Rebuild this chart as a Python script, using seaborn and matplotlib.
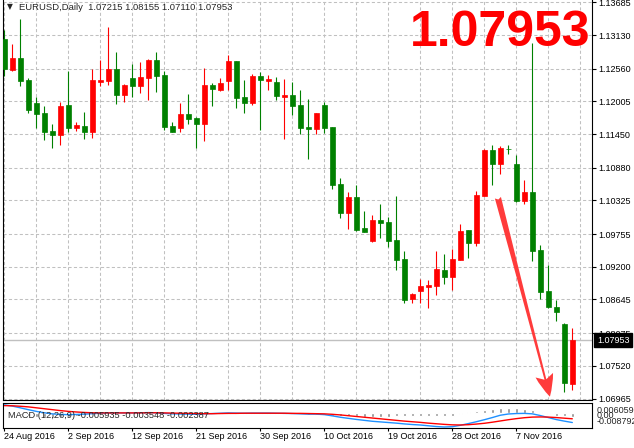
import numpy as np
import pandas as pd
import seaborn as sns
import matplotlib.pyplot as plt

# EURUSD daily bars (24 Aug 2016 .. 15 Nov 2016)
opens = [1.13062, 1.12536, 1.12740, 1.12367, 1.11977, 1.11807, 1.11502, 1.11440, 1.11943, 1.11553,
         1.11587, 1.11490, 1.12333, 1.12355, 1.12553, 1.12117, 1.12401, 1.12270, 1.12406, 1.12706,
         1.12452, 1.11587, 1.11558, 1.11790, 1.11722, 1.11626, 1.12282, 1.12197, 1.12355, 1.12689,
         1.12079, 1.11972, 1.12435, 1.12355, 1.12333, 1.12084, 1.12112, 1.11943, 1.11570, 1.11536,
         1.11943, 1.11570, 1.10603, 1.10116, 1.10383, 1.09857, 1.09641, 1.09992, 1.09959, 1.09653,
         1.09330, 1.08647, 1.08793, 1.08861, 1.08878, 1.09144, 1.09030, 1.09314, 1.09823, 1.09608,
         1.10405, 1.11180, 1.10947, 1.11202, 1.10942, 1.10315, 1.10462, 1.09484, 1.08788, 1.08522,
         1.08229, 1.07215]
highs = [1.13215, 1.12977, 1.13401, 1.12401, 1.12073, 1.11921, 1.11621, 1.11989, 1.12520, 1.11655,
         1.11824, 1.12553, 1.12711, 1.13266, 1.12842, 1.12299, 1.12638, 1.12672, 1.12723, 1.12842,
         1.12520, 1.11655, 1.11982, 1.12134, 1.11739, 1.12570, 1.12316, 1.12401, 1.12791, 1.12689,
         1.12367, 1.12469, 1.12503, 1.12452, 1.12418, 1.12384, 1.12333, 1.12197, 1.12045, 1.11807,
         1.11994, 1.11570, 1.10705, 1.10467, 1.10580, 1.10145, 1.10077, 1.10264, 1.10043, 1.10399,
         1.09467, 1.08749, 1.08992, 1.08975, 1.09467, 1.09416, 1.09495, 1.09925, 1.09823, 1.10484,
         1.11202, 1.11264, 1.11248, 1.11270, 1.11095, 1.10671, 1.12999, 1.09569, 1.09224, 1.08636,
         1.08251, 1.08155]
lows = [1.12440, 1.12520, 1.12265, 1.11812, 1.11553, 1.11354, 1.11219, 1.11270, 1.11485, 1.11507,
        1.11371, 1.11388, 1.12270, 1.12287, 1.11965, 1.11986, 1.12078, 1.12151, 1.12028, 1.12168,
        1.11524, 1.11485, 1.11490, 1.11626, 1.11219, 1.11337, 1.11931, 1.12185, 1.12197, 1.11897,
        1.11812, 1.11948, 1.11519, 1.12197, 1.12028, 1.11371, 1.11778, 1.11451, 1.11032, 1.11451,
        1.11468, 1.10523, 1.10031, 1.09845, 1.09811, 1.09794, 1.09624, 1.09692, 1.09540, 1.09150,
        1.08590, 1.08590, 1.08590, 1.08505, 1.08725, 1.08910, 1.08810, 1.09314, 1.09348, 1.09551,
        1.10405, 1.10591, 1.10778, 1.11117, 1.10303, 1.10269, 1.09302, 1.08647, 1.08495, 1.08285,
        1.07080, 1.07110]
closes = [1.12548, 1.12740, 1.12355, 1.11863, 1.11795, 1.11490, 1.11440, 1.11926, 1.11558, 1.11604,
          1.11490, 1.12367, 1.12367, 1.12553, 1.12117, 1.12277, 1.12270, 1.12418, 1.12706, 1.12440,
          1.11575, 1.11490, 1.11790, 1.11710, 1.11626, 1.12282, 1.12219, 1.12316, 1.12689, 1.12067,
          1.11982, 1.12435, 1.12367, 1.12384, 1.12100, 1.12112, 1.11931, 1.11558, 1.11541, 1.11807,
          1.11558, 1.10591, 1.10116, 1.10383, 1.09823, 1.09794, 1.09992, 1.09947, 1.09641, 1.09320,
          1.08640, 1.08732, 1.08873, 1.08890, 1.09160, 1.09030, 1.09330, 1.09806, 1.09608, 1.10422,
          1.11180, 1.10947, 1.11214, 1.11197, 1.10315, 1.10462, 1.09472, 1.08776, 1.08512, 1.08437,
          1.07223, 1.07953]

# MACD(12,26,9) sub window
macd_main = [0.0055, 0.0047, 0.0036, 0.0024, 0.0013, 0.0004, -0.0003, -0.0007, -0.0008, -0.0007,
             -0.0005, -0.0002, 0.0001, 0.0003, 0.0003, 0.0003, 0.0003, 0.0004, 0.0005, 0.0004,
             0.0000, -0.0003, -0.0004, -0.0005, -0.0006, -0.0003, -0.0001, 0.0001, 0.0003, 0.0002,
             0.0001, 0.0002, 0.0002, 0.0002, 0.0001, 0.0000, -0.0001, -0.0003, -0.0005, -0.0005,
             -0.0008, -0.0016, -0.0025, -0.0032, -0.0039, -0.0045, -0.0051, -0.0055, -0.0059, -0.0063,
             -0.0068, -0.0072, -0.0075, -0.0080, -0.0085, -0.0088, -0.0086, -0.0077, -0.0066, -0.0054,
             -0.0041, -0.0027, -0.0012, -0.0004, -0.0001, 0.0000, -0.0003, -0.0014, -0.0027, -0.0040,
             -0.0050, -0.0059]
macd_signal = [0.0050, 0.0049, 0.0046, 0.0042, 0.0036, 0.0030, 0.0024, 0.0018, 0.0013, 0.0009,
               0.0006, 0.0004, 0.0003, 0.0003, 0.0003, 0.0003, 0.0003, 0.0003, 0.0004, 0.0004,
               0.0003, 0.0002, 0.0001, 0.0000, -0.0001, -0.0002, -0.0002, -0.0001, 0.0000, 0.0000,
               0.0001, 0.0001, 0.0001, 0.0001, 0.0001, 0.0001, 0.0000, 0.0000, -0.0001, -0.0002,
               -0.0003, -0.0006, -0.0010, -0.0015, -0.0020, -0.0025, -0.0030, -0.0035, -0.0040, -0.0045,
               -0.0050, -0.0054, -0.0058, -0.0063, -0.0067, -0.0071, -0.0074, -0.0075, -0.0073, -0.0069,
               -0.0064, -0.0057, -0.0049, -0.0041, -0.0034, -0.0028, -0.0024, -0.0023, -0.0024, -0.0027,
               -0.0031, -0.0035]
macd_hist = [0.0005, -0.0002, -0.0010, -0.0018, -0.0023, -0.0026, -0.0027, -0.0025, -0.0021, -0.0016,
             -0.0011, -0.0006, -0.0004, -0.0004, -0.0004, -0.0004, -0.0004, -0.0004, -0.0004, -0.0004,
             -0.0004, -0.0005, -0.0005, -0.0005, -0.0005, -0.0004, -0.0004, -0.0004, -0.0004, -0.0004,
             -0.0004, -0.0004, -0.0004, -0.0004, -0.0004, -0.0004, -0.0004, -0.0005, -0.0008, -0.0010,
             -0.0013, -0.0016, -0.0018, -0.0019, -0.0020, -0.0021, -0.0021, -0.0021, -0.0021, -0.0020,
             -0.0020, -0.0020, -0.0020, -0.0020, -0.0020, -0.0019, -0.0014, -0.0004, 0.0009, 0.0016,
             0.0023, 0.0030, 0.0037, 0.0037, 0.0033, 0.0028, 0.0021, 0.0009, -0.0006, -0.0014,
             -0.0019, -0.0024]

date_labels = ['24 Aug 2016', '2 Sep 2016', '12 Sep 2016', '21 Sep 2016', '30 Sep 2016',
               '10 Oct 2016', '19 Oct 2016', '28 Oct 2016', '7 Nov 2016']
price_ticks = [1.13685, 1.13130, 1.12560, 1.12005, 1.11450, 1.10880, 1.10325,
               1.09755, 1.09200, 1.08645, 1.08075, 1.07520, 1.06965]
macd_labels = ['0.006059', '0.00', '-0.008792']

sns.set_style('white')
plt.rcParams['font.family'] = ['Liberation Sans', 'DejaVu Sans']

W, H = 634, 448
fig = plt.figure(figsize=(W / 100, H / 100), dpi=100)
ax = fig.add_axes([3 / W, 48 / H, 589 / W, 400 / H])
axm = fig.add_axes([3 / W, 20 / H, 589 / W, 25 / H])

df = pd.DataFrame({'o': opens, 'h': highs, 'l': lows, 'c': closes})
df['i'] = np.arange(len(df))
cols = np.where(df.c > df.o, '#ff0000', '#008000')
grid_kw = dict(color='#c0c0c0', ls=(0, (3, 2.2)), lw=0.75)

# candles
ax.vlines(df.i, df.l, df.h, colors=cols, lw=0.8, zorder=2)
ax.bar(df.i, (df.c - df.o).abs(), bottom=df[['o', 'c']].min(axis=1), width=0.58,
       color=cols, edgecolor=cols, lw=0.5, zorder=3)
ax.axhline(closes[-1], color='#c0c0c0', lw=1, zorder=1)

xlim = (-0.16, 73.46)
ax.set_xlim(*xlim)
ax.set_ylim(1.0694, 1.13724)
ax.set_xticks(np.arange(0, 76, 4))
ax.set_yticks(price_ticks)
ax.set_yticklabels([f'{p:.5f}' for p in price_ticks])
ax.yaxis.tick_right()
ax.grid(True, **grid_kw)
ax.set_axisbelow(True)
ax.tick_params(axis='x', length=0, labelbottom=False)
ax.tick_params(axis='y', right=True, left=False, length=3, width=0.8, pad=1.3,
               labelsize=6.5, colors='black')
for s in ['left', 'right', 'bottom']:
    ax.spines[s].set_color('black')
    ax.spines[s].set_linewidth(0.8)
ax.spines['top'].set_visible(False)

# last price box
ax.annotate(f'{closes[-1]:.5f}', xy=(1, closes[-1]), xycoords=('axes fraction', 'data'),
            xytext=(3.6, 0), textcoords='offset points', va='center', ha='left',
            fontsize=6.5, color='white',
            bbox=dict(boxstyle='square,pad=0.3', fc='black', ec='black'))

# big red arrow
ax.annotate('', xy=(68.2, 1.06996), xytext=(61.7, 1.10371),
            arrowprops=dict(arrowstyle='fancy,head_length=1.6,head_width=1.3,tail_width=0.45',
                            color='#ff3b3b', shrinkA=0, shrinkB=0, mutation_scale=10, lw=0))

# MACD window
mdf = pd.DataFrame({'i': df.i, 'main': macd_main, 'signal': macd_signal, 'hist': macd_hist})
sns.barplot(data=mdf, x='i', y='hist', native_scale=True, width=0.42, color='#8c8c8c',
            saturation=1, ax=axm)
sns.lineplot(data=mdf, x='i', y='main', color='#1e90ff', lw=1, ax=axm)
sns.lineplot(data=mdf, x='i', y='signal', color='#ff0000', lw=1, ax=axm)
axm.set_xlim(*xlim)
axm.set_ylim(-0.00944, 0.0067)
axm.set_xlabel('')
axm.set_ylabel('')
axm.set_yticks([])
axm.set_xticks(np.arange(0, 72, 8))
axm.set_xticklabels(date_labels, ha='left')
axm.tick_params(axis='x', bottom=True, length=2.5, width=0.8, pad=0.6, labelsize=6.5,
                colors='black')
for s in axm.spines.values():
    s.set_color('black')
    s.set_linewidth(0.8)
axm.text(5 / 589, 0.5, 'MACD (12,26,9) -0.005935 -0.003548 -0.002387',
         transform=axm.transAxes, fontsize=6.7, va='center', ha='left')
for txt, frac in zip(macd_labels, [0.69, 0.52, 0.25]):
    axm.text(1 + 5 / 589, frac, txt, transform=axm.transAxes, fontsize=6.5,
             va='center', ha='left')

# header and big price
fig.text(7 / W, 1 - 7 / H, '\u25bc', fontsize=5.5, va='center', family='DejaVu Sans')
fig.text(19 / W, 1 - 8 / H,
         f'EURUSD,Daily  {opens[-1]:.5f} {highs[-1]:.5f} {lows[-1]:.5f} {closes[-1]:.5f}',
         fontsize=6.8, va='center')
fig.text(590 / W, 1 - 32.5 / H, f'{closes[-1]:.5f}', fontsize=36, fontweight='bold',
         color='#ff0000', ha='right', va='center')

fig.savefig('out.png', dpi=100)
